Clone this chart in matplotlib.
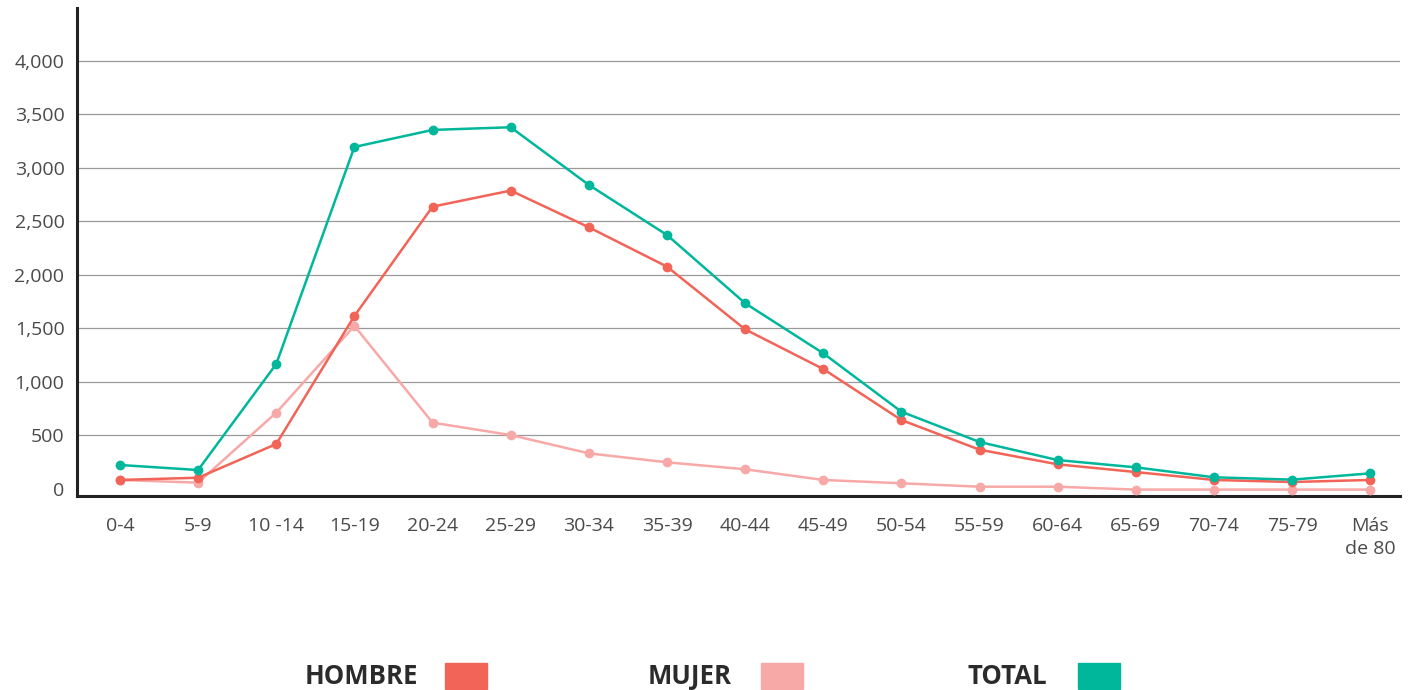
import matplotlib
matplotlib.use("Agg")
import matplotlib.pyplot as plt
from matplotlib.patches import Rectangle

# grupos de edad
grupos = ["0-4", "5-9", "10 -14", "15-19", "20-24", "25-29", "30-34", "35-39",
          "40-44", "45-49", "50-54", "55-59", "60-64", "65-69", "70-74",
          "75-79", "Más\nde 80"]

hombre = [80, 101, 416, 1613, 2635, 2785, 2442, 2074, 1488, 1117, 640, 363,
          226, 154, 80, 61, 80]
mujer = [80, 55, 709, 1520, 616, 500, 329, 245, 180, 80, 49, 17, 17, -10, -10, -10, -10]
total = [220, 173, 1164, 3193, 3352, 3377, 2838, 2370, 1732, 1264, 718, 435,
         266, 198, 105, 83, 142]

yticks = [0, 500, 1000, 1500, 2000, 2500, 3000, 3500, 4000]

C_HOMBRE = "#F26457"
C_MUJER = "#F7A9A8"
C_TOTAL = "#00B79C"

plt.rcParams["font.family"] = ["Open Sans", "DejaVu Sans"]

fig = plt.figure(figsize=(14.15, 6.9), dpi=100)
ax = fig.add_axes([0.0544, 0.2816, 0.935, 0.707])

x = list(range(len(grupos)))
for serie, color in [(mujer, C_MUJER), (hombre, C_HOMBRE), (total, C_TOTAL)]:
    ax.plot(x, serie, color=color, lw=1.8, marker="o", ms=6, zorder=3)

ax.set_xlim(-0.55, 16.38)
ax.set_ylim(-67, 4493)
ax.set_yticks(yticks)
ax.set_yticklabels([f"{v:,}" for v in yticks])
ax.set_xticks(x)
ax.set_xticklabels(grupos, multialignment="center", linespacing=1.4)

ax.grid(axis="y", color="#9a9a9a", lw=0.9)
ax.yaxis.get_gridlines()[0].set_visible(False)
ax.set_axisbelow(True)

for s in ["top", "right"]:
    ax.spines[s].set_visible(False)
for s in ["left", "bottom"]:
    ax.spines[s].set_color("#222222")
    ax.spines[s].set_linewidth(2.2)

ax.tick_params(axis="both", length=0, labelsize=14, labelcolor="#4a4a4a")
ax.tick_params(axis="y", pad=9)
ax.tick_params(axis="x", pad=15)

# leyenda
W, H = 1415, 690
leyenda = [("HOMBRE", C_HOMBRE, 305, 445), ("MUJER", C_MUJER, 648, 761),
           ("TOTAL", C_TOTAL, 968, 1078)]
for txt, col, tx, rx in leyenda:
    fig.text(tx / W, 1 - 677 / H, txt, ha="left", va="center",
             fontsize=18.5, fontweight="bold", color="#2b2b2b")
    fig.patches.append(Rectangle((rx / W, 1 - 689 / H), 42 / W, 26 / H,
                                 transform=fig.transFigure, color=col))

fig.savefig("out.png", dpi=100)
